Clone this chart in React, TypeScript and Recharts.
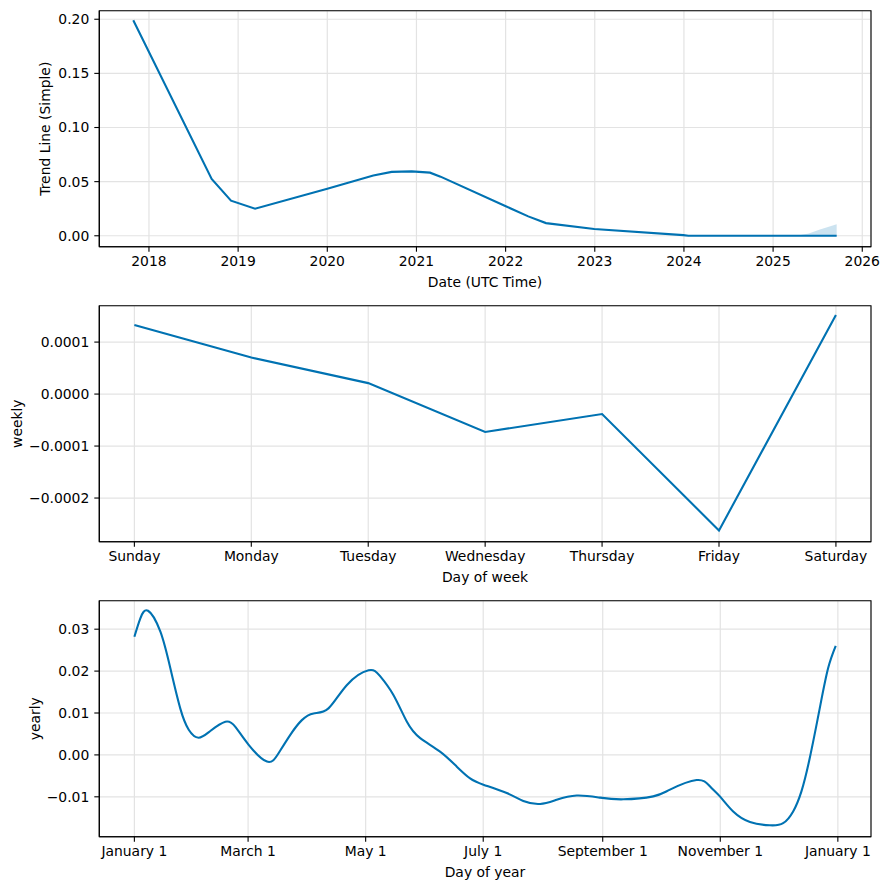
import React from 'react';
import { ComposedChart, Line, Area, XAxis, YAxis, CartesianGrid, Label, ReferenceArea } from 'recharts';

// ---- Panel 1: trend ----
const trendYears = [2017.824, 2018.703, 2018.92, 2019.19, 2020.0, 2020.516, 2020.722, 2020.946, 2021.152, 2021.27, 2021.996, 2022.254, 2022.453, 2022.994, 2023.993, 2024.05, 2025.264, 2025.4, 2025.525, 2025.713];
const trendValues = [0.199, 0.0525, 0.0324, 0.025, 0.0435, 0.0556, 0.059, 0.0595, 0.0583, 0.0546, 0.0275, 0.0179, 0.0117, 0.0062, 0.0006, 0.0, 0.0, 0.0, 0.0, 0.0];
const trendUpper = [0.199, 0.0525, 0.0324, 0.025, 0.0435, 0.0556, 0.059, 0.0595, 0.0583, 0.0546, 0.0275, 0.0179, 0.0117, 0.0062, 0.0006, 0.0, 0.0, 0.0022, 0.0057, 0.0107];
const trendYearTicks = [2018, 2019, 2020, 2021, 2022, 2023, 2024, 2025, 2026];
const trendValueTicks = [0, 0.05, 0.1, 0.15, 0.2];

// ---- Panel 2: weekly ----
const weekDays = ['Sunday', 'Monday', 'Tuesday', 'Wednesday', 'Thursday', 'Friday', 'Saturday'];
const weeklyValues = [0.000133, 0.0000703, 0.0000211, -0.0000729, -0.0000384, -0.0002624, 0.0001522];
const weeklyTicks = [-0.0002, -0.0001, 0, 0.0001];

// ---- Panel 3: yearly ----
const yearDays = [0, 3.1, 7.1, 13.5, 18.7, 23.8, 28.2, 33.3, 39.4, 47.2, 52.4, 59.3, 68.8, 74.8, 80.9, 86.9, 93.0, 100.7, 110.3, 121.5, 127.5, 134.4, 141.4, 148.3, 158.6, 167.3, 174.2, 181.1, 193.2, 201.8, 210.5, 219.1, 229.5, 241.6, 253.7, 269.2, 277.9, 291.7, 298.6, 303.8, 310.7, 319.4, 329.7, 336.6, 341.8, 346.1, 350.4, 355.6, 359.9, 363.9];
const yearlyValues = [0.0282, 0.0326, 0.0344, 0.0294, 0.0206, 0.0111, 0.006, 0.0041, 0.0057, 0.0079, 0.0067, 0.0024, -0.0016, 0.0004, 0.0048, 0.0083, 0.0099, 0.0111, 0.0167, 0.0202, 0.0188, 0.0143, 0.0079, 0.004, 0.0008, -0.0028, -0.0056, -0.0071, -0.0091, -0.011, -0.0117, -0.0107, -0.0097, -0.0102, -0.0106, -0.0099, -0.0083, -0.006, -0.0075, -0.0099, -0.0135, -0.016, -0.0168, -0.0163, -0.0135, -0.0087, -0.0008, 0.0111, 0.0206, 0.026];
const yearTickDays = [0, 59, 120, 181, 243, 304, 365];
const yearTickLabels = ['January 1', 'March 1', 'May 1', 'July 1', 'September 1', 'November 1', 'January 1'];
const yearlyTicks = [-0.01, 0, 0.01, 0.02, 0.03];

const trendData = trendYears.map((x, i) => ({ x, y: trendValues[i], band: [trendValues[i], trendUpper[i]] }));
const weeklyData = weeklyValues.map((y, i) => ({ x: i, y }));
const yearlyData = yearDays.map((x, i) => ({ x, y: yearlyValues[i] }));

const FONT = '"DejaVu Sans", sans-serif';
const tickStyle = { fill: '#000', fontSize: 13.9, fontFamily: FONT };
const BLUE = '#0072B2';
const W = 889;
const H = 295;
const PLOT_TOP = 10.7;
const PLOT_BOTTOM = 246.7;
const fmtMinus = (s: string) => s.replace('-', '\u2212');

function xLabel(text: string) {
  return (
    <Label
      content={() => (
        <text x={485} y={287} textAnchor="middle" fill="#000" fontSize={13.9} fontFamily={FONT}>
          {text}
        </text>
      )}
    />
  );
}

function yLabel(text: string, cx: number) {
  const cy = (PLOT_TOP + PLOT_BOTTOM) / 2;
  return (
    <Label
      content={() => (
        <text
          x={cx}
          y={cy}
          textAnchor="middle"
          dominantBaseline="central"
          transform={`rotate(-90 ${cx} ${cy})`}
          fill="#000"
          fontSize={13.9}
          fontFamily={FONT}
        >
          {text}
        </text>
      )}
    />
  );
}

type PanelProps = {
  data: any[];
  xDomain: [number, number];
  xTicks: number[];
  xFmt: (v: number) => string;
  yDomain: [number, number];
  yTicks: number[];
  yFmt: (v: number) => string;
  xTitle: string;
  yTitle: string;
  yTitleX: number;
  lineType: 'linear' | 'monotone' | 'natural';
  band?: boolean;
};

function Panel(p: PanelProps) {
  return (
    <ComposedChart
      width={W}
      height={H}
      data={p.data}
      margin={{ top: PLOT_TOP, right: 18, bottom: 0, left: 0 }}
    >
      <CartesianGrid xAxisId="b" yAxisId="l" stroke="#e3e3e3" strokeWidth={1.2} />
      <XAxis
        xAxisId="b"
        type="number"
        dataKey="x"
        domain={p.xDomain}
        ticks={p.xTicks}
        interval={0}
        allowDataOverflow
        height={H - PLOT_BOTTOM}
        tickSize={5}
        tickMargin={4}
        tick={tickStyle}
        tickFormatter={p.xFmt}
        tickLine={{ stroke: '#000', strokeWidth: 1.1 }}
        axisLine={{ stroke: '#000', strokeWidth: 1.1 }}
      >
        {xLabel(p.xTitle)}
      </XAxis>
      <YAxis
        yAxisId="l"
        type="number"
        domain={p.yDomain}
        ticks={p.yTicks}
        interval={0}
        allowDataOverflow
        width={99.3}
        tickSize={5}
        tickMargin={5}
        tick={tickStyle}
        tickFormatter={p.yFmt}
        tickLine={{ stroke: '#000', strokeWidth: 1.1 }}
        axisLine={{ stroke: '#000', strokeWidth: 1.1 }}
      >
        {yLabel(p.yTitle, p.yTitleX)}
      </YAxis>
      {p.band && (
        <Area
          xAxisId="b"
          yAxisId="l"
          type="linear"
          dataKey="band"
          stroke="none"
          fill={BLUE}
          fillOpacity={0.2}
          isAnimationActive={false}
          activeDot={false}
        />
      )}
      <Line
        xAxisId="b"
        yAxisId="l"
        type={p.lineType}
        dataKey="y"
        stroke={BLUE}
        strokeWidth={2.1}
        dot={false}
        activeDot={false}
        isAnimationActive={false}
      />
      <ReferenceArea
        xAxisId="b"
        yAxisId="l"
        x1={p.xDomain[0]}
        x2={p.xDomain[1]}
        y1={p.yDomain[0]}
        y2={p.yDomain[1]}
        fill="none"
        fillOpacity={0}
        stroke="#000"
        strokeWidth={1.1}
        ifOverflow="visible"
      />
    </ComposedChart>
  );
}

export default function App() {
  return (
    <div style={{ position: 'absolute', left: 0, top: 0, width: 889, height: 890, background: '#fff' }}>
      <div style={{ position: 'absolute', left: 0, top: 0 }}>
        <Panel
          data={trendData}
          xDomain={[2017.443, 2026.098]}
          xTicks={trendYearTicks}
          xFmt={(v) => String(v)}
          yDomain={[-0.0101, 0.2079]}
          yTicks={trendValueTicks}
          yFmt={(v) => fmtMinus(v.toFixed(2))}
          xTitle="Date (UTC Time)"
          yTitle="Trend Line (Simple)"
          yTitleX={45}
          lineType="linear"
          band
        />
      </div>
      <div style={{ position: 'absolute', left: 0, top: 295 }}>
        <Panel
          data={weeklyData}
          xDomain={[-0.3, 6.3]}
          xTicks={[0, 1, 2, 3, 4, 5, 6]}
          xFmt={(v) => weekDays[Math.round(v)] ?? ''}
          yDomain={[-0.000284, 0.00017]}
          yTicks={weeklyTicks}
          yFmt={(v) => fmtMinus(v.toFixed(4))}
          xTitle="Day of week"
          yTitle="weekly"
          yTitleX={17}
          lineType="linear"
        />
      </div>
      <div style={{ position: 'absolute', left: 0, top: 590 }}>
        <Panel
          data={yearlyData}
          xDomain={[-18.2, 382.2]}
          xTicks={yearTickDays}
          xFmt={(v) => yearTickLabels[yearTickDays.indexOf(v)] ?? ''}
          yDomain={[-0.01952, 0.0368]}
          yTicks={yearlyTicks}
          yFmt={(v) => fmtMinus(v.toFixed(2))}
          xTitle="Day of year"
          yTitle="yearly"
          yTitleX={35}
          lineType="natural"
        />
      </div>
    </div>
  );
}
